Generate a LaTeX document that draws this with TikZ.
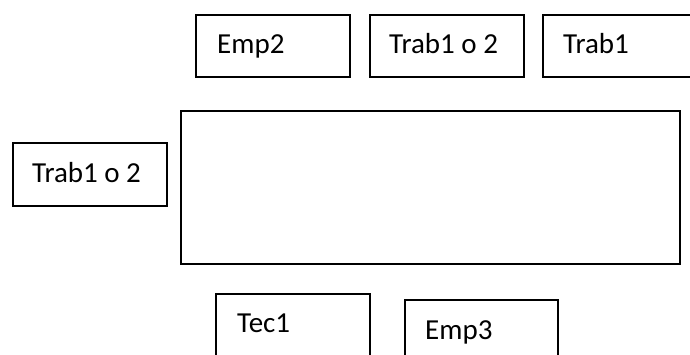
\documentclass[tikz,border=0pt]{standalone}
\usepackage{fontspec}
\setmainfont{Carlito}
\usetikzlibrary{calc}
\begin{document}
\begin{tikzpicture}[x=1pt,y=-1pt,
  box/.style={draw=black,line width=1.6pt,fill=white,rectangle,inner sep=0pt,anchor=north west},
  txt/.style={anchor=base west,inner sep=0pt,font=\fontsize{29}{32}\selectfont}]
\useasboundingbox (0,0) rectangle (690,354);
\clip (0,0) rectangle (690,354);
\fill[white] (0,0) rectangle (690,354);
% top row
\node[box,minimum width=154pt,minimum height=62pt] (emp2) at (195,14) {};
\node[txt] (temp2) at ($(emp2.north west)+(22,39)$) {Emp2};
\node[box,minimum width=154pt,minimum height=62pt] (trabA) at (369,14) {};
\node[txt] (ttrabA) at ($(trabA.north west)+(20,39)$) {Trab1 o 2};
\node[box,minimum width=160pt,minimum height=62pt] (trab1) at (542,14) {};
\node[txt] (ttrab1) at ($(trab1.north west)+(21,39)$) {Trab1};
% left box
\node[box,minimum width=154pt,minimum height=63pt] (trabB) at (12,142) {};
\node[txt] (ttrabB) at ($(trabB.north west)+(20,40)$) {Trab1 o 2};
% big rectangle
\node[box,minimum width=499pt,minimum height=153pt] (big) at (180,110) {};
% bottom row
\node[box,minimum width=154pt,minimum height=70pt] (tec1) at (215,293) {};
\node[txt] (ttec1) at ($(tec1.north west)+(22,39)$) {Tec1};
\node[box,minimum width=153pt,minimum height=70pt] (emp3) at (404,299) {};
\node[txt] (temp3) at ($(emp3.north west)+(21,40)$) {Emp3};
\end{tikzpicture}
\end{document}
